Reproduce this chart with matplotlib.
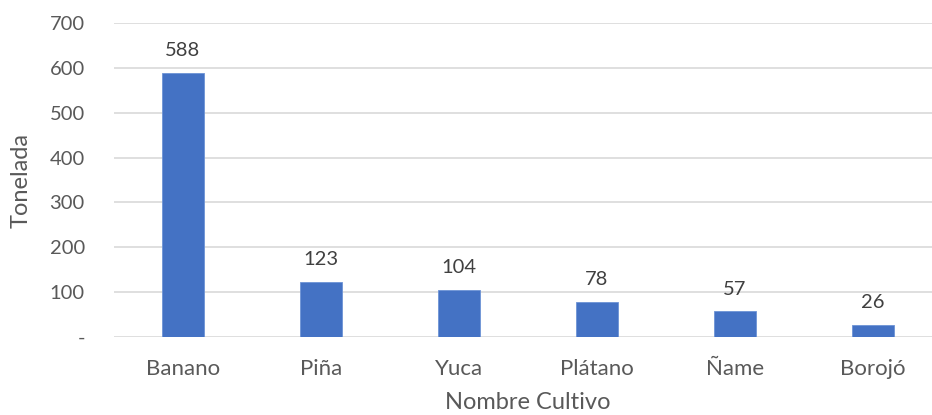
import matplotlib.pyplot as plt
import numpy as np

cultivos = ["Banano", "Piña", "Yuca", "Plátano", "Ñame", "Borojó"]
toneladas = [588, 123, 104, 78, 57, 26]
y_ticks = [0, 100, 200, 300, 400, 500, 600, 700]
y_tick_labels = ["-", "100", "200", "300", "400", "500", "600", "700"]

plt.rcParams["font.family"] = ["Lato", "DejaVu Sans"]
text_color = "#595959"

fig = plt.figure(figsize=(9.32, 4.15), dpi=100)
# Limites de la grafica (la derecha queda recortada como en la original)
ax = fig.add_axes([114 / 932, 1 - 337 / 415, 828 / 932, 314 / 415])

x = np.arange(len(cultivos))
ax.bar(x, toneladas, width=0.31, color="#4472C4",
       edgecolor="#6d93d6", linewidth=0.6, zorder=3)

for xi, v in zip(x, toneladas):
    ax.annotate(str(v), (xi, v), xytext=(0, 10), textcoords="offset points",
                ha="center", va="bottom", fontsize=14.5, color="#404040")

ax.set_xlim(-0.5, len(cultivos) - 0.5)
ax.set_ylim(0, 700)
ax.set_yticks(y_ticks)
ax.set_yticklabels(y_tick_labels)
ax.set_xticks(x)
ax.set_xticklabels(cultivos)
ax.tick_params(axis="both", length=0, colors=text_color)
ax.tick_params(axis="y", pad=21, labelsize=14.5)
ax.tick_params(axis="x", pad=16, labelsize=16)

ax.grid(axis="y", color="#d9d9d9", linewidth=1.2, zorder=0)
for s in ax.spines.values():
    s.set_visible(False)

ax.set_ylabel("Tonelada", fontsize=17, color=text_color, labelpad=13)
ax.set_xlabel("Nombre Cultivo", fontsize=17, color=text_color, labelpad=9)

fig.savefig("out.png", dpi=100)
